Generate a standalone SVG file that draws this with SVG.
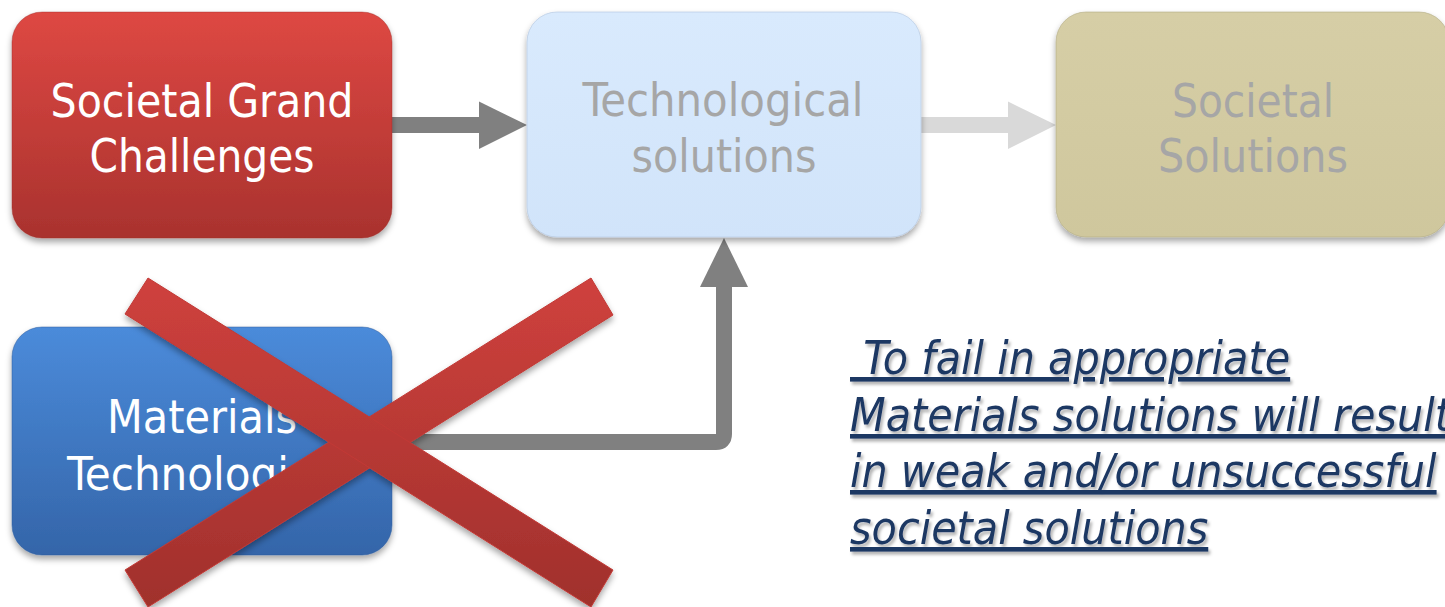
<svg xmlns="http://www.w3.org/2000/svg" width="1445" height="607" viewBox="0 0 1445 607">
  <defs>
    <linearGradient id="gRed" x1="0" y1="0" x2="0" y2="1">
      <stop offset="0" stop-color="#de4843"/>
      <stop offset="1" stop-color="#a9322e"/>
    </linearGradient>
    <linearGradient id="gBlue" x1="0" y1="0" x2="0" y2="1">
      <stop offset="0" stop-color="#4b8bda"/>
      <stop offset="1" stop-color="#3465a9"/>
    </linearGradient>
    <linearGradient id="gLight" x1="0" y1="0" x2="0" y2="1">
      <stop offset="0" stop-color="#d9eafd"/>
      <stop offset="1" stop-color="#d1e4fa"/>
    </linearGradient>
    <linearGradient id="gTan" x1="0" y1="0" x2="0" y2="1">
      <stop offset="0" stop-color="#d6cea6"/>
      <stop offset="1" stop-color="#cfc79d"/>
    </linearGradient>
    <linearGradient id="gX" gradientUnits="userSpaceOnUse" x1="0" y1="278" x2="0" y2="607">
      <stop offset="0" stop-color="#cf413d"/>
      <stop offset="1" stop-color="#a0302c"/>
    </linearGradient>
    <filter id="shadow" x="-10%" y="-10%" width="120%" height="130%">
      <feDropShadow dx="0" dy="4" stdDeviation="3" flood-color="#000" flood-opacity="0.35"/>
    </filter>
    <filter id="tshadow" x="-5%" y="-20%" width="110%" height="150%">
      <feDropShadow dx="2" dy="3" stdDeviation="1.5" flood-color="#000" flood-opacity="0.3"/>
    </filter>
  </defs>
  <style>
    .box { filter: url(#shadow); }
    .lbl { font-family: "DejaVu Sans Condensed", "DejaVu Sans", sans-serif; font-size: 47px; text-anchor: middle; }
    .white { fill: #ffffff; }
    .grey { fill: #a6a6a6; }
    .note { font-family: "DejaVu Sans Condensed", "DejaVu Sans", sans-serif; font-size: 46px; font-style: italic; fill: #1f3864; text-decoration: underline; white-space: pre; }
  </style>

  <rect width="1445" height="607" fill="#ffffff"/>

  <g id="connectors">
    <g id="arrow-challenges-tech" fill="#808080">
      <rect x="390" y="117" width="91" height="16"/>
      <polygon points="479,101.5 527,125 479,149"/>
    </g>
    <g id="arrow-tech-societal" fill="#d9d9d9">
      <rect x="919" y="117" width="91" height="16"/>
      <polygon points="1008,101.5 1056,125 1008,149"/>
    </g>
    <g id="arrow-materials-tech">
      <path d="M392,442 H716 Q724,442 724,434 V284" fill="none" stroke="#808080" stroke-width="16"/>
      <polygon points="700,287 748,287 724,238" fill="#808080"/>
    </g>
  </g>

  <g id="node-challenges">
    <rect class="box" x="12" y="12" width="380" height="226" rx="30" fill="url(#gRed)" stroke="#9c2f2b" stroke-opacity="0.4"/>
    <text class="lbl white" x="202" y="117" textLength="303" lengthAdjust="spacingAndGlyphs">Societal Grand</text>
    <text class="lbl white" x="202" y="172" textLength="225" lengthAdjust="spacingAndGlyphs">Challenges</text>
  </g>

  <g id="node-tech">
    <rect class="box" x="527" y="12" width="394" height="225" rx="30" fill="url(#gLight)" stroke="#b8cbe3" stroke-opacity="0.7"/>
    <text class="lbl grey" x="723" y="116" textLength="281" lengthAdjust="spacingAndGlyphs">Technological</text>
    <text class="lbl grey" x="724" y="172" textLength="185" lengthAdjust="spacingAndGlyphs">solutions</text>
  </g>

  <g id="node-societal">
    <rect class="box" x="1056" y="12" width="393" height="225" rx="30" fill="url(#gTan)" stroke="#b3ab83" stroke-opacity="0.6"/>
    <text class="lbl grey" x="1253" y="117" textLength="162" lengthAdjust="spacingAndGlyphs">Societal</text>
    <text class="lbl grey" x="1253" y="172" textLength="190" lengthAdjust="spacingAndGlyphs">Solutions</text>
  </g>

  <g id="node-materials">
    <rect class="box" x="12" y="327" width="380" height="228" rx="30" fill="url(#gBlue)" stroke="#2f5e9e" stroke-opacity="0.5"/>
    <text class="lbl white" x="202" y="433" textLength="190" lengthAdjust="spacingAndGlyphs">Materials</text>
    <text class="lbl white" x="202" y="490" textLength="270" lengthAdjust="spacingAndGlyphs">Technologies</text>
  </g>

  <g id="cross" filter="url(#shadow)" fill="url(#gX)" stroke="#c23a36" stroke-width="1">
    <polygon points="125,570 591,278 613,315 148,607"/>
    <polygon points="148,278 613,570 591,607 125,314"/>
  </g>

  <g id="note" filter="url(#tshadow)">
    <text class="note" x="850" y="374"> To fail in appropriate</text>
    <text class="note" x="850" y="431">Materials solutions will result</text>
    <text class="note" x="850" y="487">in weak and/or unsuccessful</text>
    <text class="note" x="850" y="544">societal solutions</text>
  </g>
</svg>
